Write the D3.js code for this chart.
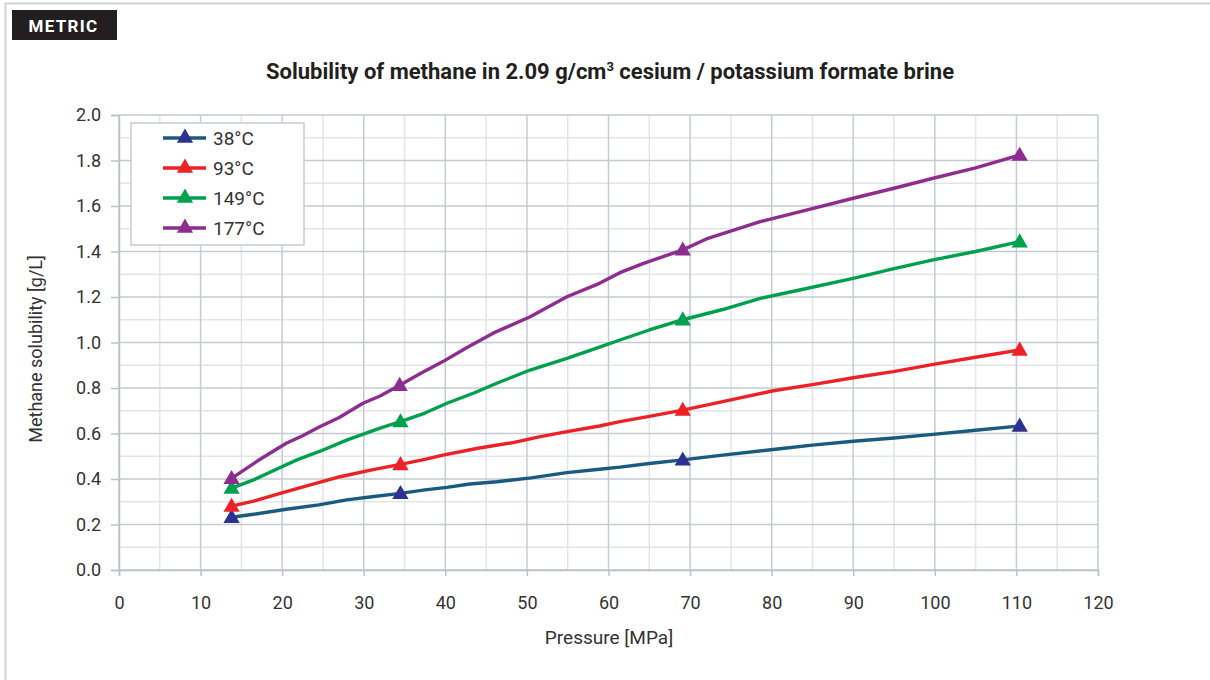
<!DOCTYPE html>
<html>
<head>
<meta charset="utf-8">
<script src="https://cdn.jsdelivr.net/npm/d3@7"></script>
<style>
  html, body { margin: 0; padding: 0; background: #fff; }
  svg { display: block; }
  text { font-family: Roboto, "Noto Sans", sans-serif; }
</style>
</head>
<body>
<svg id="chart" width="1210" height="680"></svg>
<script>
// Pressure [MPa] and methane solubility [g/L] for each brine temperature
const seriesNames = ["38°C", "93°C", "149°C", "177°C"];
const lineColors = ["#1b5a80", "#ed2227", "#00a04f", "#8e2d8f"];
const markerColors = ["#2e3192", "#ed2227", "#00a04f", "#8e2d8f"];

const pressure38 = [13.8, 16.5, 20.5, 24.5, 27.9, 31.0, 34.5, 37.5, 40.2, 43.0, 46.3, 50.5, 54.9, 58.9, 61.4, 65.0, 69.1, 74.0, 81.0, 85.0, 90.0, 95.0, 99.8, 105.0, 110.4];
const solub38    = [0.232, 0.245, 0.267, 0.286, 0.308, 0.322, 0.337, 0.352, 0.363, 0.378, 0.388, 0.405, 0.428, 0.443, 0.452, 0.468, 0.484, 0.505, 0.533, 0.549, 0.566, 0.580, 0.596, 0.614, 0.633];

const pressure93 = [13.8, 16.5, 20.5, 24.0, 27.1, 31.0, 34.5, 37.5, 39.7, 44.0, 48.3, 51.5, 54.9, 58.9, 61.4, 65.0, 69.1, 74.0, 80.2, 85.0, 90.0, 94.9, 100.0, 105.0, 110.4];
const solub93    = [0.281, 0.303, 0.344, 0.380, 0.410, 0.440, 0.464, 0.486, 0.505, 0.535, 0.560, 0.585, 0.608, 0.633, 0.652, 0.675, 0.703, 0.740, 0.788, 0.815, 0.845, 0.872, 0.905, 0.935, 0.967];

const pressure149 = [13.8, 16.5, 18.5, 21.8, 24.5, 27.9, 32.0, 34.5, 37.5, 40.2, 43.5, 46.3, 50.4, 54.9, 58.9, 61.4, 65.0, 69.1, 74.0, 78.6, 84.0, 90.0, 95.0, 99.8, 105.0, 110.4];
const solub149    = [0.360, 0.396, 0.430, 0.484, 0.520, 0.571, 0.624, 0.652, 0.690, 0.733, 0.778, 0.821, 0.879, 0.930, 0.980, 1.011, 1.055, 1.100, 1.145, 1.194, 1.235, 1.282, 1.325, 1.363, 1.400, 1.443];

const pressure177 = [13.8, 17.0, 20.5, 22.5, 24.6, 27.0, 29.9, 32.0, 34.4, 37.0, 39.7, 42.5, 45.8, 50.4, 54.9, 58.9, 61.4, 64.3, 69.1, 72.0, 78.6, 84.0, 90.0, 95.0, 99.8, 105.0, 110.4];
const solub177    = [0.403, 0.480, 0.557, 0.590, 0.630, 0.670, 0.733, 0.765, 0.812, 0.865, 0.916, 0.975, 1.040, 1.113, 1.201, 1.260, 1.307, 1.348, 1.407, 1.455, 1.531, 1.580, 1.634, 1.678, 1.722, 1.768, 1.824];

// Pressures where the measured points are marked
const markerPressures = [13.8, 34.5, 69.1, 110.4];

const xTicks = [0, 10, 20, 30, 40, 50, 60, 70, 80, 90, 100, 110, 120];
const yTicks = [0.0, 0.2, 0.4, 0.6, 0.8, 1.0, 1.2, 1.4, 1.6, 1.8, 2.0];

const pressures = [pressure38, pressure93, pressure149, pressure177];
const solubilities = [solub38, solub93, solub149, solub177];

const series = seriesNames.map((name, i) => ({
  name,
  lineColor: lineColors[i],
  markerColor: markerColors[i],
  points: pressures[i].map((p, j) => ({ p, s: solubilities[i][j] }))
}));

const svg = d3.select("#chart");

// Outer frame
svg.append("path")
  .attr("d", "M5.5,680 V3.5 H1210")
  .attr("fill", "none")
  .attr("stroke", "#cfd4da")
  .attr("stroke-width", 2);

// Unit badge
svg.append("rect").attr("x", 12).attr("y", 10).attr("width", 105).attr("height", 30).attr("fill", "#231f20");
svg.append("text")
  .attr("x", 63.5).attr("y", 31.5)
  .attr("text-anchor", "middle")
  .attr("fill", "#fff")
  .attr("font-size", 17).attr("font-weight", 700)
  .attr("letter-spacing", 1.3)
  .text("METRIC");

// Title
const title = svg.append("text")
  .attr("x", 610).attr("y", 79)
  .attr("text-anchor", "middle")
  .attr("fill", "#231f20")
  .attr("font-size", 22).attr("font-weight", 700);
title.append("tspan").text("Solubility of methane in 2.09 g/cm");
title.append("tspan").attr("font-size", 13).attr("dy", -8).text("3");
title.append("tspan").attr("dy", 8).text(" cesium / potassium formate brine");

const plot = { left: 119, right: 1098, top: 115, bottom: 570 };

const x = d3.scaleLinear().domain([0, 120]).range([plot.left, plot.right]);
const y = d3.scaleLinear().domain([0, 2.0]).range([plot.bottom, plot.top]);

const grid = svg.append("g");
// Minor grid
grid.selectAll("line.vminor")
  .data(d3.range(5, 120, 10))
  .join("line")
  .attr("x1", d => x(d)).attr("x2", d => x(d))
  .attr("y1", plot.top).attr("y2", plot.bottom)
  .attr("stroke", "#e1e5e9").attr("stroke-width", 1.5);
grid.selectAll("line.hminor")
  .data(d3.range(0.1, 2.0, 0.2))
  .join("line")
  .attr("x1", plot.left).attr("x2", plot.right)
  .attr("y1", d => y(d)).attr("y2", d => y(d))
  .attr("stroke", "#e1e5e9").attr("stroke-width", 1.5);
// Major grid
grid.selectAll("line.vmajor")
  .data(xTicks)
  .join("line")
  .attr("x1", d => x(d)).attr("x2", d => x(d))
  .attr("y1", plot.top).attr("y2", plot.bottom)
  .attr("stroke", "#c4cbd2").attr("stroke-width", 1.5);
grid.selectAll("line.hmajor")
  .data(yTicks)
  .join("line")
  .attr("x1", plot.left).attr("x2", plot.right)
  .attr("y1", d => y(d)).attr("y2", d => y(d))
  .attr("stroke", "#c4cbd2").attr("stroke-width", 1.5);

// Axes
const xAxis = d3.axisBottom(x).tickValues(xTicks).tickSize(6).tickPadding(20).tickFormat(d3.format("d"));
const yAxis = d3.axisLeft(y).tickValues(yTicks).tickSize(8).tickPadding(10).tickFormat(d3.format(".1f"));

const gx = svg.append("g").attr("transform", `translate(0,${plot.bottom})`).call(xAxis);
const gy = svg.append("g").attr("transform", `translate(${plot.left},0)`).call(yAxis);
[gx, gy].forEach(g => {
  g.select(".domain").attr("stroke", "#b8c0c8").attr("stroke-width", 1.5);
  g.selectAll(".tick line").attr("stroke", "#b8c0c8").attr("stroke-width", 1.5);
  g.selectAll(".tick text")
    .attr("fill", "#333")
    .attr("font-size", 18)
    .attr("font-family", "Roboto, sans-serif");
});

// Axis titles
svg.append("text")
  .attr("x", 609).attr("y", 644)
  .attr("text-anchor", "middle")
  .attr("fill", "#333").attr("font-size", 19)
  .text("Pressure [MPa]");
svg.append("text")
  .attr("transform", "translate(42,349) rotate(-90)")
  .attr("text-anchor", "middle")
  .attr("fill", "#333").attr("font-size", 18)
  .text("Methane solubility [g/L]");

// Lines and markers
const line = d3.line().x(d => x(d.p)).y(d => y(d.s));
const tri = d3.symbol().type(d3.symbolTriangle).size(115);

const layer = svg.append("g");
series.forEach(s => {
  layer.append("path")
    .datum(s.points)
    .attr("d", line)
    .attr("fill", "none")
    .attr("stroke", s.lineColor)
    .attr("stroke-width", 3.4)
    .attr("stroke-linejoin", "round");
  const marks = s.points.filter(pt => markerPressures.some(m => Math.abs(m - pt.p) < 0.2));
  layer.selectAll(null)
    .data(marks)
    .join("path")
    .attr("d", tri)
    .attr("transform", d => `translate(${x(d.p)},${y(d.s) + 1})`)
    .attr("fill", s.markerColor);
});

// Legend
const legend = svg.append("g").attr("transform", "translate(131,123)");
legend.append("rect")
  .attr("width", 173).attr("height", 122)
  .attr("fill", "#fff")
  .attr("stroke", "#c4cbd2").attr("stroke-width", 1.5);
series.forEach((s, i) => {
  const row = legend.append("g").attr("transform", `translate(0,${15 + i * 30})`);
  row.append("line")
    .attr("x1", 32).attr("x2", 75)
    .attr("stroke", s.lineColor).attr("stroke-width", 3.4);
  row.append("path").attr("d", tri).attr("transform", "translate(54,0)").attr("fill", s.markerColor);
  row.append("text")
    .attr("x", 82).attr("y", 7)
    .attr("fill", "#333").attr("font-size", 19)
    .text(s.name);
});
</script>
</body>
</html>
